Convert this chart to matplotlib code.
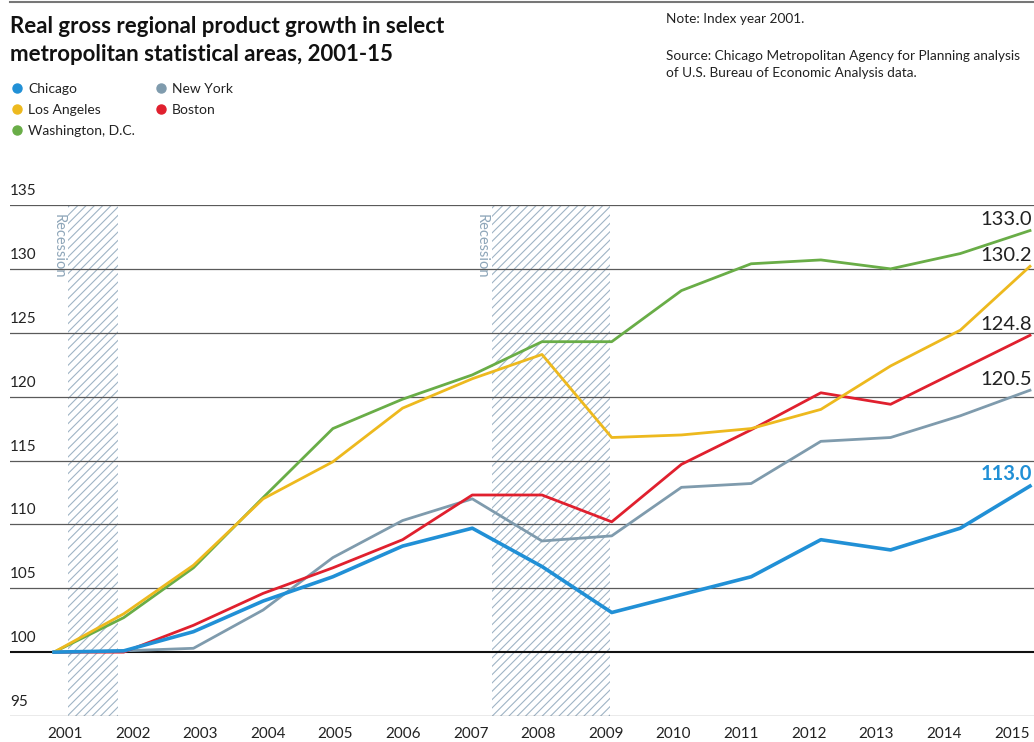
import matplotlib
matplotlib.use('Agg')
import matplotlib.pyplot as plt
import matplotlib.transforms as mtransforms

# Data (index, 2001 = 100)
years = list(range(2001, 2016))
chicago = [100.0, 100.1, 101.6, 104.0, 105.9, 108.3, 109.7, 106.7, 103.1, 104.5, 105.9, 108.8, 108.0, 109.7, 113.0]
new_york = [100.0, 100.1, 100.3, 103.3, 107.4, 110.3, 112.0, 108.7, 109.1, 112.9, 113.2, 116.5, 116.8, 118.5, 120.5]
boston = [100.0, 100.0, 102.1, 104.6, 106.6, 108.8, 112.3, 112.3, 110.2, 114.7, 117.4, 120.3, 119.4, 122.1, 124.8]
los_angeles = [100.0, 103.0, 106.8, 112.0, 114.9, 119.1, 121.4, 123.3, 116.8, 117.0, 117.5, 119.0, 122.4, 125.2, 130.2]
washington = [100.0, 102.7, 106.6, 112.1, 117.5, 119.8, 121.7, 124.3, 124.3, 128.3, 130.4, 130.7, 130.0, 131.2, 133.0]

recessions = [(2001.2, 2001.92), (2007.28, 2008.98)]
y_ticks = [95, 100, 105, 110, 115, 120, 125, 130, 135]

# Colours
BLUE = '#2190d6'
GRAY = '#7f9bad'
RED = '#e0202e'
YELLOW = '#edb91e'
GREEN = '#69ad47'
HATCH = '#9fb4c5'
TXT = '#222222'

plt.rcParams['font.family'] = ['Lato', 'DejaVu Sans']
plt.rcParams['hatch.linewidth'] = 0.8

fig = plt.figure(figsize=(10.34, 7.42), dpi=100)
W, H = 1034.0, 742.0

# axes: x 10..1034 px, y 205..716 px
ax = fig.add_axes([10 / W, 26 / H, 1 - 10 / W, (716 - 205) / H])
x_per_year = 69.7
ax.set_xlim(2001 - 44 / x_per_year, 2015 + 4 / x_per_year)
ax.set_ylim(95, 135)
ax.axis('off')

# recession bands
for start, end in recessions:
    ax.axvspan(start, end, ymin=0, ymax=1, facecolor='none', edgecolor=HATCH,
               hatch='////', linewidth=0, zorder=1)
    ax.text(start - 0.04, 134.3, 'Recession', rotation=270, color='#8ea6b9',
            fontsize=10.5, ha='right', va='top', zorder=2)

# gridlines and y labels
for v in y_ticks:
    if v == 100:
        ax.axhline(v, color='#111111', linewidth=1.5, zorder=2)
    else:
        ax.axhline(v, color='#5a5a5a', linewidth=0.9, zorder=2)
    ax.annotate(str(v), xy=(0, v), xycoords=('axes fraction', 'data'),
                xytext=(0, 5), textcoords='offset points', fontsize=11,
                color=TXT, ha='left', va='bottom')

# series
ax.plot(years, new_york, color=GRAY, linewidth=2.0, zorder=3)
ax.plot(years, boston, color=RED, linewidth=2.0, zorder=3)
ax.plot(years, washington, color=GREEN, linewidth=2.0, zorder=3)
ax.plot(years, los_angeles, color=YELLOW, linewidth=2.0, zorder=4)
ax.plot(years, chicago, color=BLUE, linewidth=2.6, zorder=5)

# end labels
end_labels = [(washington[-1], TXT, 'normal'), (los_angeles[-1], TXT, 'normal'),
              (boston[-1], TXT, 'normal'), (new_york[-1], TXT, 'normal'),
              (chicago[-1], BLUE, 'bold')]
for val, col, wt in end_labels:
    ax.annotate('%.1f' % val, xy=(1, val), xycoords=('figure fraction', 'data'),
                xytext=(-1.5, 1.5), textcoords='offset points', fontsize=14.5,
                color=col, fontweight=wt, ha='right', va='bottom')

# x labels
label_start = 2001 + 11 / x_per_year
label_step = 67.6 / x_per_year
for i, yr in enumerate(years):
    ax.text(label_start + i * label_step, 95, str(yr), fontsize=11, color=TXT,
            ha='center', va='top',
            transform=ax.transData + mtransforms.ScaledTranslation(0, -8 / 72, fig.dpi_scale_trans))

# top rule
fig.add_artist(plt.Line2D([10 / W, 1], [1 - 1.5 / H, 1 - 1.5 / H], color='#777777', linewidth=1.5))

# title
fig.text(10 / W, 1 - 33 / H, 'Real gross regional product growth in select',
         fontsize=16, fontweight='bold', color='#111111', ha='left', va='baseline')
fig.text(10 / W, 1 - 61 / H, 'metropolitan statistical areas, 2001-15',
         fontsize=16, fontweight='bold', color='#111111', ha='left', va='baseline')

# notes
fig.text(666 / W, 1 - 23 / H, 'Note: Index year 2001.', fontsize=9.8, color=TXT,
         ha='left', va='baseline')
fig.text(666 / W, 1 - 60 / H, 'Source: Chicago Metropolitan Agency for Planning analysis',
         fontsize=9.8, color=TXT, ha='left', va='baseline')
fig.text(666 / W, 1 - 77 / H, 'of U.S. Bureau of Economic Analysis data.',
         fontsize=9.8, color=TXT, ha='left', va='baseline')

# legend
legend_items = [('Chicago', BLUE, 17, 88), ('Los Angeles', YELLOW, 17, 109),
                ('Washington, D.C.', GREEN, 17, 130), ('New York', GRAY, 161, 88),
                ('Boston', RED, 161, 109)]
for name, col, lx, ly in legend_items:
    fig.add_artist(plt.Line2D([lx / W], [1 - ly / H], marker='o', markersize=6.5,
                              color=col, linestyle='none'))
    fig.text((lx + 11) / W, 1 - ly / H, name, fontsize=10, color=TXT,
             ha='left', va='center_baseline')

fig.savefig('out.png', dpi=100)
